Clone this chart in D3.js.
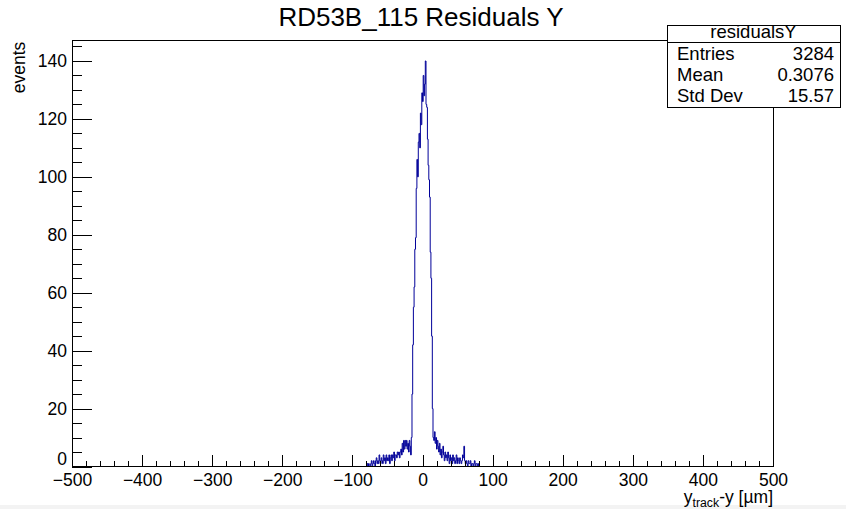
<!DOCTYPE html>
<html>
<head>
<meta charset="utf-8">
<script src="https://cdn.jsdelivr.net/npm/d3@7"></script>
<style>
  html, body { margin: 0; padding: 0; background: #fff; }
  svg { display: block; font-family: "Liberation Sans", Arial, Helvetica, sans-serif; }
</style>
</head>
<body>
<svg id="chart" width="846" height="509"></svg>
<script>
// ---- data (1 µm bins; bins outside [-80, 80) are empty) ----
const firstBin = -80;
const leftTail = [0,1,0,1,0,0,1,2,0,1,2,1,0,2,3,1,2,1,4,2,1,3,2,1,4,2,3,1,4,2,3,2,4,1,3,4,2,4,3,5,2,4,4,3,5,4,5,3,5,6,4,8,5,9,6,9,7,9,6,8,5,9,7,4];
const core = [10,25,42,55,62,75,79,96,106,100,112,115,110,122,118,129,126,135,128,132,140,125,124,113,104,99,93,74,65,45,20,10];
const rightTail = [9,12,8,10,6,9,7,5,8,4,6,3,5,7,4,2,5,3,4,2,5,3,1,4,2,3,1,4,2,3,1,2,4,1,3,2,1,3,2,1,2,4,3,7,2,1,2,1,0,2,1,1,2,0,1,1,0,1,2,0,1,1,0,1];
const xTicks = [-500,-400,-300,-200,-100,0,100,200,300,400,500];
const yTicks = [0,20,40,60,80,100,120,140];
const statLabels = ["Entries", "Mean", "Std Dev"];
const statValues = ["3284", "0.3076", "15.57"];
const titleText = "RD53B_115 Residuals Y";
const histName = "residualsY";

const counts = leftTail.concat(core, rightTail);

const svg = d3.select("#chart");
svg.append("rect").attr("x",0).attr("y",0).attr("width",846).attr("height",509).attr("fill","#fff");
svg.append("rect").attr("x",0).attr("y",505).attr("width",846).attr("height",4).attr("fill","#f3f3f3");

const x = d3.scaleLinear().domain([-500, 500]).range([72, 773]);
const y = d3.scaleLinear().domain([0, 147]).range([466.5, 40.7]);

// full histogram bins
const bins = d3.range(-500, 500).map(b => {
  const i = b - firstBin;
  return [b, (i >= 0 && i < counts.length) ? counts[i] : 0];
});
bins.push([500, 0]);

const line = d3.line().x(d => x(d[0])).y(d => y(d[1])).curve(d3.curveStepAfter);
svg.append("path").datum(bins).attr("d", line)
  .attr("fill","none").attr("stroke","#000099").attr("stroke-width",1);

// axes
const fs = 17.5;
const xMinor = d3.range(-500, 501, 20).filter(v => v % 100 !== 0);
const yMinor = d3.range(0, 146, 5).filter(v => v % 20 !== 0);

const gx = svg.append("g").attr("transform", `translate(0,${y(0)})`)
  .call(d3.axisBottom(x).tickValues(xTicks).tickSize(-12).tickPadding(7.5).tickFormat(d3.format("d")));
const gxm = svg.append("g").attr("transform", `translate(0,${y(0)})`)
  .call(d3.axisBottom(x).tickValues(xMinor).tickSize(-6).tickFormat(""));
const gy = svg.append("g").attr("transform", `translate(${x(-500)},0)`)
  .call(d3.axisLeft(y).tickValues(yTicks).tickSize(-20).tickPadding(5).tickFormat(d3.format("d")));
const gym = svg.append("g").attr("transform", `translate(${x(-500)},0)`)
  .call(d3.axisLeft(y).tickValues(yMinor).tickSize(-10).tickFormat(""));

[gx, gxm, gy, gym].forEach(g => {
  g.select(".domain").remove();
  g.selectAll("line").attr("stroke","#000").attr("shape-rendering","crispEdges");
  g.selectAll("text").attr("fill","#000").style("font-size", fs + "px")
    .style("font-family", '"Liberation Sans", Arial, sans-serif');
});
// lift the y "0" label a touch so it does not collide with "-500"
gy.selectAll(".tick").filter(d => d === 0).select("text").attr("dy", "-0.12em");

// frame
svg.append("rect").attr("x", x(-500)).attr("y", y(147))
  .attr("width", x(500) - x(-500)).attr("height", y(0) - y(147))
  .attr("fill","none").attr("stroke","#000").attr("stroke-width",1).attr("shape-rendering","crispEdges");

// title
svg.append("text").attr("x", 421).attr("y", 26).attr("text-anchor","middle")
  .style("font-size","26px").attr("fill","#000").text(titleText);

// y title
svg.append("text").attr("transform","translate(25,41.7) rotate(-90)")
  .attr("text-anchor","end").style("font-size", fs + "px").attr("fill","#000").text("events");

// x title
const xt = svg.append("text").attr("x", 773).attr("y", 502.5).attr("text-anchor","end")
  .style("font-size", fs + "px").attr("fill","#000");
xt.append("tspan").text("y");
xt.append("tspan").attr("dy", 4).style("font-size","12.3px").text("track");
xt.append("tspan").attr("dy", -4).text("-y [µm]");

// stats box
const bx0 = 667, bx1 = 840, by0 = 25, by1 = 107;
svg.append("rect").attr("x", bx0).attr("y", by0).attr("width", bx1 - bx0).attr("height", by1 - by0)
  .attr("fill","#fff").attr("stroke","#000").attr("stroke-width",1).attr("shape-rendering","crispEdges");
svg.append("line").attr("x1", bx0).attr("x2", bx1).attr("y1", 42).attr("y2", 42)
  .attr("stroke","#000").attr("shape-rendering","crispEdges");
svg.append("text").attr("x", (bx0 + bx1) / 2).attr("y", 38).attr("text-anchor","middle")
  .style("font-size","18.5px").attr("fill","#000").text(histName);
const rowY = [59.5, 80.7, 101.7];
statLabels.forEach((lab, i) => {
  svg.append("text").attr("x", 677).attr("y", rowY[i]).style("font-size","18.5px").attr("fill","#000").text(lab);
  svg.append("text").attr("x", 834).attr("y", rowY[i]).attr("text-anchor","end")
    .style("font-size","18.5px").attr("fill","#000").text(statValues[i]);
});
</script>
</body>
</html>
